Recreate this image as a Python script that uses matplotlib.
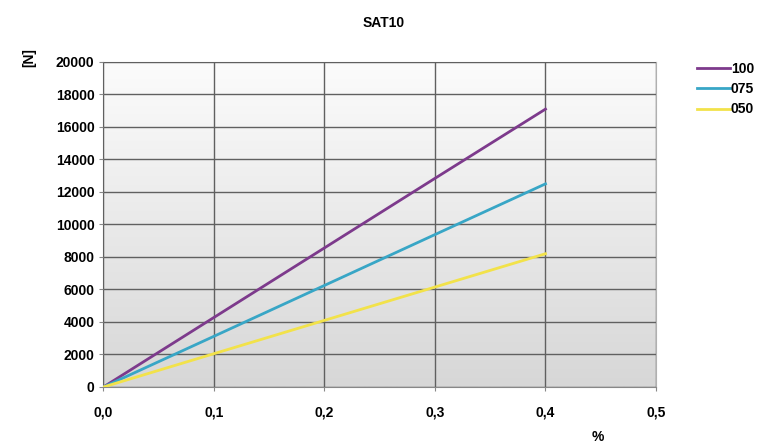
import matplotlib

matplotlib.use('AGG')
import matplotlib.pyplot as plt
import numpy as np

plt.rcParams['font.family'] = ['Liberation Sans', 'DejaVu Sans']

x = [0.0, 0.1, 0.2, 0.3, 0.4]
s100 = [0, 4280, 8560, 12840, 17100]
s075 = [0, 3120, 6250, 9380, 12500]
s050 = [0, 2050, 4100, 6150, 8200]
labels = ['100', '075', '050']
colors = ['#7d3a8c', '#38a6c6', '#f2e24a']

fig = plt.figure(figsize=(7.72, 4.46), dpi=100)
ax = fig.add_axes([0.134, 0.1323, 0.7157, 0.7287])

# gradient background
grad = np.linspace(0, 1, 256).reshape(-1, 1)
cm = matplotlib.colors.LinearSegmentedColormap.from_list('g', ['#fcfcfc', '#d7d7d7'])
ax.imshow(grad, extent=[0, 0.5, 0, 20000], aspect='auto', cmap=cm, origin='upper', zorder=0)

for ys, lab, c in zip([s100, s075, s050], labels, colors):
    ax.plot(x, ys, color=c, lw=2.0, label=lab, zorder=3)

ax.set_xlim(0, 0.5)
ax.set_ylim(0, 20000)
ax.set_xticks([0, 0.1, 0.2, 0.3, 0.4, 0.5])
ax.set_xticklabels(['0,0', '0,1', '0,2', '0,3', '0,4', '0,5'])
ax.set_yticks(range(0, 20001, 2000))
ax.grid(True, color='#606060', lw=1.0, zorder=1)
ax.set_axisbelow(False)
for sp in ['top', 'right']:
    ax.spines[sp].set_color('#b0b0b0')
for sp in ['left', 'bottom']:
    ax.spines[sp].set_color('#888888')
ax.tick_params(labelsize=10, length=3, color='#888888')
for t in ax.get_xticklabels() + ax.get_yticklabels():
    t.set_fontweight('bold')
ax.tick_params(axis='x', pad=10)

fig.text(0.497, 0.948, 'SAT10', ha='center', va='center', fontsize=10, fontweight='bold')
fig.text(0.0376, 0.870, '[N]', ha='center', va='center', rotation=90, fontsize=10, fontweight='bold')
fig.text(0.775, 0.005, '%', ha='center', va='bottom', fontsize=10, fontweight='bold')

leg = fig.legend(loc='upper left', bbox_to_anchor=(0.9028, 0.861), frameon=False, fontsize=10,
                 handlelength=2.4, handletextpad=0.05, labelspacing=0.45,
                 borderpad=0, borderaxespad=0)
for t in leg.get_texts():
    t.set_fontweight('bold')

fig.savefig('out.png', dpi=100)
